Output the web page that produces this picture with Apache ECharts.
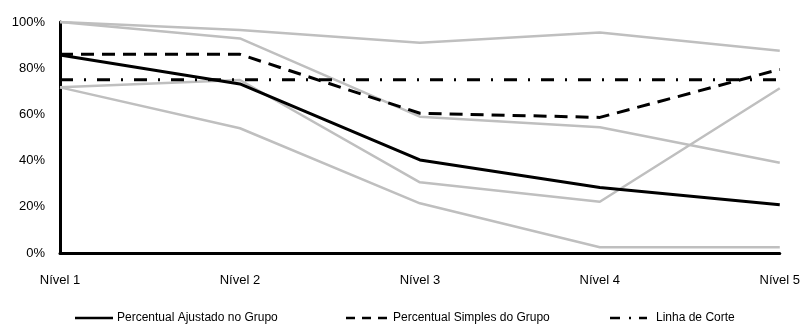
<!DOCTYPE html>
<html>
<head>
<meta charset="utf-8">
<script src="https://cdn.jsdelivr.net/npm/echarts@6/dist/echarts.min.js"></script>
<style>
  html, body { margin: 0; padding: 0; background: #fff; }
  #chart { width: 803px; height: 327px; }
</style>
</head>
<body>
<div id="chart"></div>
<script>
// Categories along the x axis
const niveis = ['Nível 1', 'Nível 2', 'Nível 3', 'Nível 4', 'Nível 5'];

// Group percentages
const ajustado = [85.7, 73.2, 40.3, 28.4, 20.9];
const simples = [86.0, 86.0, 60.5, 58.7, 79.5];
const linhaCorte = [75, 75, 75, 75, 75];

// Reference bands (gray)
const refA = [100, 96.5, 91.0, 95.5, 87.6];
const refB = [100, 92.9, 59.0, 54.4, 39.1];
const refC = [71.7, 74.9, 30.6, 22.2, 71.3];
const refD = [71.7, 54.0, 21.5, 2.5, 2.5];

const yTicks = [0, 20, 40, 60, 80, 100];

// Legend entries: label and dash pattern
const legendNames = ['Percentual Ajustado no Grupo', 'Percentual Simples do Grupo', 'Linha de Corte'];

const FONT = '"Liberation Sans", Arial, sans-serif';
const GRAY = '#bfbfbf';

function grayLine(data) {
  return {
    type: 'line', data: data, symbol: 'none', silent: true, z: 1,
    lineStyle: { color: GRAY, width: 2.5 }
  };
}

// Hand-built legend row (line sample + label)
function legendItem(x1, x2, tx, y, dash, text) {
  return [
    {
      type: 'line', silent: true,
      shape: { x1: x1, y1: y, x2: x2, y2: y },
      style: { stroke: '#000', lineWidth: 2.5, lineDash: dash }
    },
    {
      type: 'text', silent: true, x: tx, y: y,
      style: { text: text, fill: '#000', font: '12px ' + FONT, textVerticalAlign: 'middle', verticalAlign: 'middle' }
    }
  ];
}

const legendY = 318;
const graphics = [].concat(
  legendItem(75, 113, 117, legendY, null, legendNames[0]),
  legendItem(346, 389, 393, legendY, [9, 7], legendNames[1]),
  legendItem(610, 647, 656, legendY, [10, 9, 2, 8], legendNames[2])
);

const chart = echarts.init(document.getElementById('chart'), null, { renderer: 'canvas' });
chart.setOption({
  animation: false,
  backgroundColor: '#fff',
  grid: { left: 60, right: 18, top: 22, bottom: 74, containLabel: false },
  xAxis: {
    type: 'category',
    data: niveis,
    boundaryGap: false,
    axisLine: { lineStyle: { color: '#000', width: 3 } },
    axisTick: { show: false },
    axisLabel: { color: '#000', fontFamily: FONT, fontSize: 13, margin: 21 },
    splitLine: { show: false }
  },
  yAxis: {
    type: 'value',
    min: yTicks[0], max: yTicks[yTicks.length - 1], interval: 20,
    axisLine: { show: true, lineStyle: { color: '#000', width: 3 } },
    axisTick: { show: false },
    axisLabel: { color: '#000', fontFamily: FONT, fontSize: 13, margin: 15, formatter: '{value}%' },
    splitLine: { show: false }
  },
  legend: { show: false },
  graphic: graphics,
  series: [
    grayLine(refA),
    grayLine(refB),
    grayLine(refC),
    grayLine(refD),
    {
      name: legendNames[2], type: 'line', data: linhaCorte, symbol: 'none', z: 3,
      lineStyle: { color: '#000', width: 3, type: [13, 11, 2, 11] }
    },
    {
      name: legendNames[1], type: 'line', data: simples, symbol: 'none', z: 4,
      lineStyle: { color: '#000', width: 3, type: [13, 8] }
    },
    {
      name: legendNames[0], type: 'line', data: ajustado, symbol: 'none', z: 5,
      lineStyle: { color: '#000', width: 3 }
    }
  ]
});
</script>
</body>
</html>
